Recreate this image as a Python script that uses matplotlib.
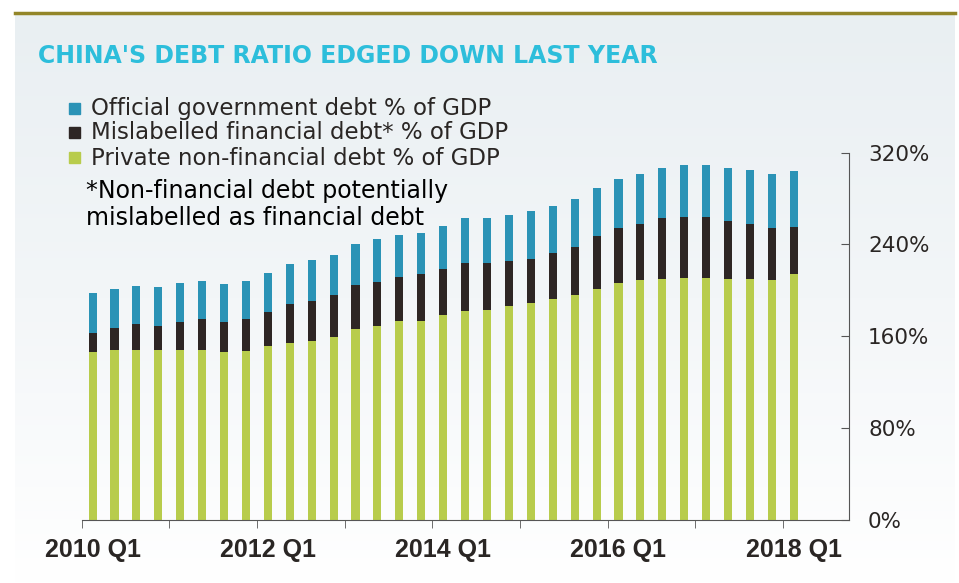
import numpy as np
import matplotlib.pyplot as plt
from matplotlib.colors import LinearSegmentedColormap

# quarterly data, 2010 Q1 .. 2018 Q1 (% of GDP)
quarters = [f"{y} Q{q}" for y in range(2010, 2019) for q in range(1, 5)][:33]
private_debt = [146, 148, 148, 148, 148, 148, 146, 147, 151, 154, 156, 159, 166,
                169, 173, 173, 178, 182, 183, 186, 189, 192, 196, 201, 206, 209,
                210, 211, 211, 210, 210, 209, 214]
mislabelled_debt = [17, 19.5, 22.5, 21, 24.5, 27, 26.5, 27.5, 30, 34, 35, 37, 38.5,
                    38.5, 38.5, 41, 40.5, 41.5, 40.5, 39.5, 38.5, 40.5, 42, 46.5, 48,
                    49, 53, 53, 53, 50, 48, 45.5, 41.5]
official_debt = [35, 34, 33.5, 34, 34, 33, 33, 34, 34, 35, 35, 35, 36, 37, 37, 36,
                 37.5, 39.5, 39.5, 40.5, 41.5, 41, 41.5, 41.5, 43, 43.5, 43.5, 45.5,
                 45.5, 46.5, 46.5, 47, 48.5]
series_labels = ["Official government debt % of GDP",
                 "Mislabelled financial debt* % of GDP",
                 "Private non-financial debt % of GDP"]
y_ticks = [0, 80, 160, 240, 320]

BLUE = "#2b93b6"
BLACK = "#2e2624"
GREEN = "#b8cc4c"
TEXT = "#2a2624"

W, H = 959, 583
fig = plt.figure(figsize=(W / 100, H / 100), dpi=100)
fig.patch.set_facecolor("white")

def fx(px):
    return px / W

def fy(py):
    return 1 - py / H

# light panel background with a soft fade to white
bg = fig.add_axes([fx(15), 0, fx(955) - fx(15), fy(14)])
cmap = LinearSegmentedColormap.from_list("bg", ["#e9eff2", "#f3f6f8", "#ffffff"])
bg.imshow(np.linspace(0, 1, 256).reshape(-1, 1), aspect="auto", cmap=cmap,
          extent=[0, 1, 0, 1])
bg.axis("off")

# olive rule at the top
fig.add_artist(plt.Line2D([fx(15), fx(955)], [fy(13), fy(13)], color="#938629",
                          lw=2.5, transform=fig.transFigure))

fig.text(fx(38), fy(56), "CHINA'S DEBT RATIO EDGED DOWN LAST YEAR",
         color="#2dbedb", fontsize=17, fontweight="bold",
         family=["Liberation Sans Narrow", "DejaVu Sans"], va="center")

# legend
for i, (lab, col) in enumerate(zip(series_labels, [BLUE, BLACK, GREEN])):
    yc = [108, 132.5, 158][i]
    fig.add_artist(plt.Rectangle((fx(69), fy(yc + 5.5)), fx(11), 11 / H,
                                 color=col, transform=fig.transFigure))
    fig.text(fx(91), fy(yc), lab, color=TEXT, fontsize=16.5, va="center")

for yc, line in [(191, "*Non-financial debt potentially"),
                 (218.5, "mislabelled as financial debt")]:
    fig.text(fx(86), fy(yc), line, color="black", fontsize=17, va="center")

ax = fig.add_axes([fx(81.6), fy(519.5), fx(848.6) - fx(81.6), fy(152.7) - fy(519.5)])
ax.patch.set_alpha(0)

x = np.arange(len(quarters))
bw = 0.37
p = np.array(private_debt)
m = np.array(mislabelled_debt)
o = np.array(official_debt)
ax.bar(x, p, bw, color=GREEN)
ax.bar(x, m, bw, bottom=p, color=BLACK)
ax.bar(x, o, bw, bottom=p + m, color=BLUE)

ax.set_xlim(-0.5, 34.5)
ax.set_ylim(0, 320)

for s in ["top", "left"]:
    ax.spines[s].set_visible(False)
ax.spines["right"].set_color("#555555")
ax.spines["bottom"].set_color("#555555")

ax.yaxis.tick_right()
ax.set_yticks(y_ticks)
ax.set_yticklabels([f"{v}%" for v in y_ticks], fontsize=15.5, color=TEXT)
ax.tick_params(axis="y", direction="in", length=6, color="#555555", pad=14)

ax.set_xticks(x[::8])
ax.set_xticklabels([quarters[i] for i in range(0, 33, 8)], fontsize=18,
                   color=TEXT, fontweight="bold", family="Liberation Sans")
ax.tick_params(axis="x", which="major", length=0, pad=13)
ax.set_xticks(np.arange(-0.5, 34, 4), minor=True)
ax.tick_params(axis="x", which="minor", length=6, color="#555555")

fig.savefig("out.png", dpi=100)
